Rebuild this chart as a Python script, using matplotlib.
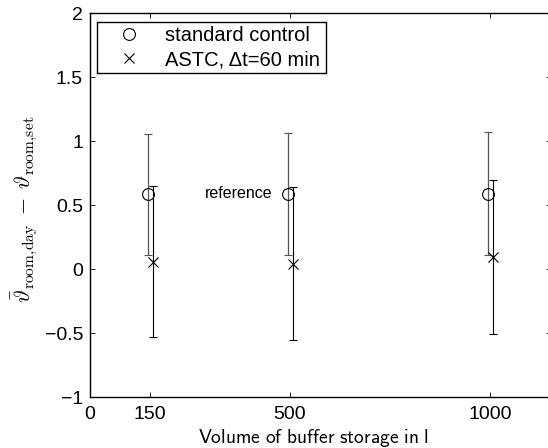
import matplotlib
matplotlib.use("Agg")
import matplotlib.pyplot as plt
from matplotlib.lines import Line2D

plt.rcParams.update({'font.size': 14,
                     'font.family': ['Liberation Sans', 'DejaVu Sans'],
                     'mathtext.fontset': 'cm'})

# buffer storage volumes (l)
volumes = [150, 500, 1000]

# standard control: mean deviation and error half-width
std_mean = [0.585, 0.59, 0.59]
std_err = [0.47, 0.475, 0.48]

# ASTC with dt = 60 min
astc_mean = [0.06, 0.045, 0.095]
astc_err = [0.59, 0.595, 0.60]

xticks = [0, 150, 500, 1000]
yticks = [-1, -0.5, 0, 0.5, 1, 1.5, 2]
ytick_labels = ['\u22121', '\u22120.5', '0', '0.5', '1', '1.5', '2']

# small horizontal shift so both series stay readable
shift_std = -6
shift_astc = 7

fig = plt.figure(figsize=(5.48, 4.48), dpi=100)
# right spine sits just outside the picture, like the cropped original
ax = fig.add_axes([90 / 548, 1 - 397.3 / 448, 461 / 548, 384 / 448])

ax.errorbar([v + shift_std for v in volumes], std_mean, yerr=std_err,
            fmt='o', ms=8.5, mfc='none', mec='black', mew=0.8,
            ecolor='#555555', elinewidth=0.9, capsize=3, capthick=0.9)
ax.errorbar([v + shift_astc for v in volumes], astc_mean, yerr=astc_err,
            fmt='x', ms=7, mec='black', mew=0.8,
            ecolor='black', elinewidth=0.8, capsize=3, capthick=0.8)

ax.text(457, std_mean[1], 'reference', ha='right', va='center', fontsize=11.5)

ax.set_xlim(0, 1152.5)
ax.set_ylim(-1, 2)
ax.set_xticks(xticks)
ax.set_yticks(yticks)
ax.set_yticklabels(ytick_labels)
ax.tick_params(direction='in', length=3.5, width=0.6, top=True, right=True, pad=5)
ax.tick_params(axis='x', pad=6)
for s in ax.spines.values():
    s.set_linewidth(1.0)

ax.set_xlabel(r'$\mathsf{Volume\ of\ buffer\ storage\ in\ l}$', fontsize=14)
ax.xaxis.set_label_coords((313 - 90) / 461, -0.077)
ax.set_ylabel(r'$\bar{\vartheta}_{\mathrm{room{,}day}}\;-\;\vartheta_{\mathrm{room{,}set}}$',
              fontsize=16)
ax.yaxis.set_label_coords(-0.11, 0.49)

handles = [Line2D([], [], ls='none', marker='o', ms=8.5, mfc='none', mec='black', mew=0.8),
           Line2D([], [], ls='none', marker='x', ms=7, mec='black', mew=0.8)]
leg = ax.legend(handles, ['standard control', 'ASTC, \u0394t=60 min'],
                loc='upper left', mode='expand',
                bbox_to_anchor=(7 / 461, 0, 229 / 461, 1 - 8.7 / 384),
                borderaxespad=0, fancybox=False, edgecolor='black',
                framealpha=1, fontsize=14.5, handlelength=2.8, handletextpad=0.4,
                labelspacing=0.27, borderpad=0.2)
leg.get_frame().set_linewidth(1.0)

fig.savefig('out.png', dpi=100)
